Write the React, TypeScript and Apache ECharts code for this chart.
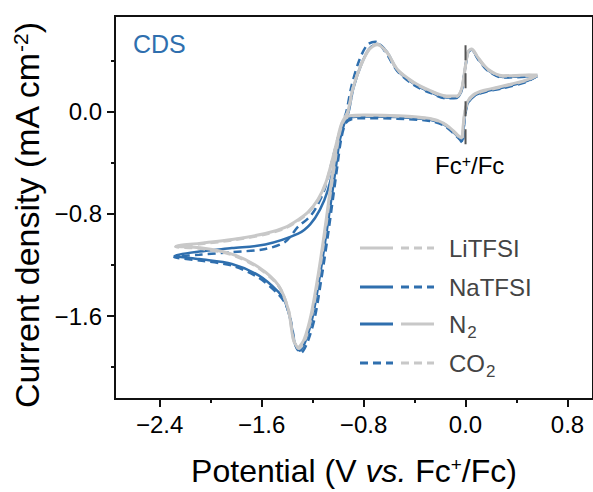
import React, { useEffect, useRef } from "react";
import * as echarts from "echarts";

const FONT = "Arial, 'Liberation Sans', Helvetica, sans-serif";
const GRAY = "#c8c8c8";
const BLUE = "#2f6fae";
const DASH = [8, 5];

// Axis ticks (V and mA cm^-2)
const xMajorTicks = [-2.4, -1.6, -0.8, 0.0, 0.8];
const xMinorTicks = [-2.0, -1.2, -0.4, 0.4];
const yMajorTicks = [-1.6, -0.8, 0.0];
const yMinorTicks = [-2.0, -1.2, -0.4, 0.4];

// Fc+/Fc reference marker at 0 V
const fcMarker = [
  [0, 0.52],
  [0, -0.26],
];

// Cyclic voltammograms [E (V vs Fc+/Fc), j (mA cm^-2)], starting at the positive vertex
const liTFSI_N2 = [
  [0.565, 0.287], [0.474, 0.248], [0.295, 0.202], [0.14, 0.166], [0.062, 0.133], [0.016, 0.079],
  [-0.008, -0.013], [-0.019, -0.113], [-0.031, -0.205], [-0.054, -0.19], [-0.093, -0.152],
  [-0.171, -0.09], [-0.28, -0.052], [-0.536, -0.031], [-0.792, -0.026], [-0.909, -0.032],
  [-0.955, -0.059], [-0.994, -0.167], [-1.025, -0.359], [-1.064, -0.628], [-1.111, -0.975],
  [-1.157, -1.282], [-1.212, -1.59], [-1.266, -1.782], [-1.313, -1.844], [-1.351, -1.782],
  [-1.39, -1.551], [-1.468, -1.359], [-1.623, -1.218], [-1.833, -1.115], [-2.089, -1.065],
  [-2.27, -1.052],
  [-2.089, -1.031], [-1.833, -1.0], [-1.571, -0.954], [-1.416, -0.905], [-1.313, -0.845],
  [-1.235, -0.785], [-1.157, -0.685], [-1.095, -0.552], [-1.041, -0.359], [-1.002, -0.205],
  [-0.971, -0.09], [-0.924, 0.0], [-0.885, 0.179], [-0.823, 0.358], [-0.756, 0.487],
  [-0.691, 0.525], [-0.614, 0.462], [-0.536, 0.333], [-0.406, 0.231], [-0.277, 0.166],
  [-0.148, 0.123], [-0.07, 0.123], [-0.031, 0.179], [-0.005, 0.333], [0.021, 0.474],
  [0.047, 0.492], [0.099, 0.423], [0.176, 0.333], [0.293, 0.282], [0.499, 0.287], [0.565, 0.287],
];

const liTFSI_CO2 = [
  [0.56, 0.284], [0.474, 0.244], [0.295, 0.198], [0.14, 0.162], [0.062, 0.13], [0.016, 0.074],
  [-0.007, -0.02], [-0.018, -0.12], [-0.029, -0.212], [-0.053, -0.195], [-0.092, -0.156],
  [-0.17, -0.094], [-0.28, -0.056], [-0.536, -0.035], [-0.792, -0.03], [-0.905, -0.036],
  [-0.952, -0.064], [-0.99, -0.175], [-1.02, -0.365], [-1.06, -0.635], [-1.107, -0.98],
  [-1.153, -1.29], [-1.208, -1.6], [-1.262, -1.792], [-1.309, -1.855], [-1.348, -1.79],
  [-1.388, -1.56], [-1.466, -1.366], [-1.623, -1.224], [-1.833, -1.12], [-2.089, -1.07],
  [-2.275, -1.058],
  [-2.089, -1.036], [-1.833, -1.006], [-1.571, -0.96], [-1.416, -0.912], [-1.313, -0.852],
  [-1.235, -0.79], [-1.155, -0.69], [-1.093, -0.555], [-1.039, -0.36], [-1.0, -0.205],
  [-0.969, -0.09], [-0.922, 0.0], [-0.884, 0.182], [-0.823, 0.362], [-0.757, 0.492],
  [-0.694, 0.53], [-0.616, 0.465], [-0.536, 0.33], [-0.406, 0.226], [-0.277, 0.162],
  [-0.148, 0.12], [-0.07, 0.12], [-0.031, 0.176], [-0.005, 0.33], [0.021, 0.472],
  [0.047, 0.49], [0.099, 0.42], [0.176, 0.33], [0.293, 0.279], [0.499, 0.285], [0.56, 0.284],
];

const naTFSI_N2 = [
  [0.565, 0.28], [0.474, 0.238], [0.295, 0.19], [0.14, 0.155], [0.062, 0.122], [0.016, 0.065],
  [-0.006, -0.03], [-0.016, -0.13], [-0.026, -0.228], [-0.05, -0.205], [-0.09, -0.165],
  [-0.17, -0.1], [-0.28, -0.062], [-0.536, -0.042], [-0.792, -0.038], [-0.9, -0.045],
  [-0.945, -0.075], [-0.982, -0.19], [-1.012, -0.4], [-1.05, -0.667], [-1.095, -0.975],
  [-1.142, -1.282], [-1.196, -1.59], [-1.25, -1.782], [-1.3, -1.872], [-1.338, -1.818],
  [-1.375, -1.625], [-1.416, -1.488], [-1.468, -1.411], [-1.623, -1.282], [-1.833, -1.192],
  [-2.089, -1.154], [-2.283, -1.128],
  [-2.089, -1.095], [-1.833, -1.068], [-1.571, -1.04], [-1.313, -0.955], [-1.219, -0.882],
  [-1.142, -0.767], [-1.08, -0.613], [-1.025, -0.397], [-0.986, -0.22], [-0.955, -0.105],
  [-0.917, 0.0], [-0.88, 0.185], [-0.818, 0.37], [-0.752, 0.497], [-0.688, 0.53],
  [-0.612, 0.462], [-0.536, 0.325], [-0.406, 0.22], [-0.277, 0.155], [-0.148, 0.112],
  [-0.07, 0.112], [-0.031, 0.17], [-0.005, 0.33], [0.021, 0.47], [0.045, 0.488],
  [0.099, 0.415], [0.176, 0.325], [0.293, 0.272], [0.499, 0.278], [0.565, 0.28],
];

const naTFSI_CO2 = [
  [0.56, 0.278], [0.474, 0.232], [0.295, 0.185], [0.14, 0.15], [0.062, 0.118], [0.016, 0.06],
  [-0.004, -0.04], [-0.014, -0.14], [-0.023, -0.244], [-0.048, -0.215], [-0.09, -0.172],
  [-0.17, -0.108], [-0.28, -0.072], [-0.536, -0.055], [-0.792, -0.05], [-0.89, -0.058],
  [-0.94, -0.09], [-0.975, -0.21], [-1.005, -0.42], [-1.04, -0.68], [-1.082, -0.985],
  [-1.128, -1.29], [-1.18, -1.6], [-1.236, -1.795], [-1.292, -1.89], [-1.332, -1.835],
  [-1.37, -1.64], [-1.41, -1.51], [-1.468, -1.43], [-1.623, -1.3], [-1.833, -1.205],
  [-2.089, -1.165], [-2.285, -1.14],
  [-2.089, -1.12], [-1.833, -1.1], [-1.571, -1.075], [-1.416, -1.02], [-1.313, -0.9],
  [-1.235, -0.836], [-1.181, -0.767], [-1.11, -0.62], [-1.05, -0.4], [-1.005, -0.22],
  [-0.97, -0.1], [-0.935, 0.0], [-0.895, 0.2], [-0.835, 0.4], [-0.77, 0.525],
  [-0.707, 0.548], [-0.63, 0.47], [-0.536, 0.32], [-0.406, 0.21], [-0.277, 0.148],
  [-0.148, 0.105], [-0.07, 0.108], [-0.031, 0.165], [-0.005, 0.325], [0.021, 0.465],
  [0.045, 0.485], [0.099, 0.41], [0.176, 0.32], [0.293, 0.268], [0.499, 0.275], [0.56, 0.278],
];

const fmt = (v: number) => v.toFixed(1).replace("-", "\u2212");

const X_MIN = -2.75;
const X_MAX = 1.0;
const Y_MIN = -2.25;
const Y_MAX = 0.75;

function cvSeries(name: string, data: number[][], color: string, dashed: boolean, width: number) {
  return {
    name,
    type: "line",
    data,
    showSymbol: false,
    smooth: 0.3,
    xAxisIndex: 0,
    yAxisIndex: 0,
    lineStyle: { color, width, type: dashed ? DASH : "solid", cap: "butt" },
    emphasis: { disabled: true },
  };
}

export default function App() {
  const ref = useRef<HTMLDivElement>(null);

  useEffect(() => {
    if (!ref.current) return;
    const chart = echarts.init(ref.current, null, { renderer: "svg" });

    const legendText = "#444";
    const legendFont = 24;

    const legendRows = [
      { y: 248, left: { color: GRAY, dash: false }, right: { color: GRAY, dash: true }, text: "LiTFSI" },
      { y: 287, left: { color: BLUE, dash: false }, right: { color: BLUE, dash: true }, text: "NaTFSI" },
      { y: 324, left: { color: BLUE, dash: false }, right: { color: GRAY, dash: false }, text: "N{sub|2}" },
      { y: 363, left: { color: BLUE, dash: true }, right: { color: GRAY, dash: true }, text: "CO{sub|2}" },
    ];

    const legendGraphics: any[] = [];
    legendRows.forEach((r) => {
      legendGraphics.push({
        type: "line",
        shape: { x1: 360, y1: r.y, x2: 393, y2: r.y },
        style: { stroke: r.left.color, lineWidth: 3, lineDash: r.left.dash ? DASH : null },
      });
      legendGraphics.push({
        type: "line",
        shape: { x1: 401, y1: r.y, x2: 434, y2: r.y },
        style: { stroke: r.right.color, lineWidth: 3, lineDash: r.right.dash ? DASH : null },
      });
      legendGraphics.push({
        type: "text",
        x: 449,
        y: r.y,
        style: {
          text: r.text,
          fill: legendText,
          font: `${legendFont}px ${FONT}`,
          verticalAlign: "middle",
          rich: {
            sub: {
              fontSize: 17,
              lineHeight: 17,
              padding: [16, 0, 0, 1],
              fontFamily: FONT,
              fill: legendText,
            },
          },
        },
      });
    });

    chart.setOption({
      animation: false,
      backgroundColor: "#fff",
      grid: {
        left: 115,
        top: 16,
        width: (X_MAX - X_MIN) * 128.75,
        height: 390,
        show: true,
        borderColor: "#111",
        borderWidth: 2,
        backgroundColor: "transparent",
      },
      xAxis: [
        {
          type: "value",
          min: X_MIN,
          max: X_MAX,
          position: "bottom",
          axisLine: { show: true, onZero: false, lineStyle: { color: "#111", width: 2 } },
          axisTick: { show: true, customValues: xMajorTicks, length: 8, lineStyle: { color: "#111", width: 2 } },
          axisLabel: {
            show: true,
            customValues: xMajorTicks,
            formatter: fmt,
            margin: 13,
            color: "#000",
            fontSize: 24,
            fontFamily: FONT,
          },
          splitLine: { show: false },
          name: "Potential (V {i|vs.} Fc{sup|+}/Fc)",
          nameLocation: "middle",
          nameGap: 56,
          nameTextStyle: {
            fontSize: 32,
            fontFamily: FONT,
            color: "#000",
            rich: {
              i: { fontSize: 32, fontStyle: "italic", fontFamily: FONT, color: "#000" },
              sup: { fontSize: 19, verticalAlign: "top", fontFamily: FONT, color: "#000" },
            },
          },
        },
        {
          type: "value",
          min: X_MIN,
          max: X_MAX,
          position: "bottom",
          axisLine: { show: false, onZero: false },
          axisTick: { show: true, customValues: xMinorTicks, length: 4, lineStyle: { color: "#111", width: 2 } },
          axisLabel: { show: false },
          splitLine: { show: false },
        },
      ],
      yAxis: [
        {
          type: "value",
          min: Y_MIN,
          max: Y_MAX,
          position: "left",
          axisLine: { show: true, onZero: false, lineStyle: { color: "#111", width: 2 } },
          axisTick: { show: true, customValues: yMajorTicks, length: 8, lineStyle: { color: "#111", width: 2 } },
          axisLabel: {
            show: true,
            customValues: yMajorTicks,
            formatter: fmt,
            margin: 13,
            color: "#000",
            fontSize: 24,
            fontFamily: FONT,
          },
          splitLine: { show: false },
          name: "Current density (mA cm{sup|-2})",
          nameLocation: "middle",
          nameRotate: 90,
          nameGap: 70,
          nameTextStyle: {
            fontSize: 34,
            fontFamily: FONT,
            color: "#000",
            padding: [0, 16, 0, 0],
            rich: { sup: { fontSize: 21, verticalAlign: "top", fontFamily: FONT, color: "#000" } },
          },
        },
        {
          type: "value",
          min: Y_MIN,
          max: Y_MAX,
          position: "left",
          axisLine: { show: false, onZero: false },
          axisTick: { show: true, customValues: yMinorTicks, length: 4, lineStyle: { color: "#111", width: 2 } },
          axisLabel: { show: false },
          splitLine: { show: false },
        },
      ],
      graphic: [
        {
          type: "text",
          x: 133,
          y: 44,
          style: { text: "CDS", fill: BLUE, font: `25px ${FONT}`, verticalAlign: "middle" },
        },
        {
          type: "text",
          x: 435,
          y: 165,
          style: {
            text: "Fc{sup|+}/Fc",
            fill: "#000",
            font: `24px ${FONT}`,
            verticalAlign: "middle",
            rich: { sup: { fontSize: 16, verticalAlign: "top", fontFamily: FONT, fill: "#000" } },
          },
        },
        ...legendGraphics,
      ],
      series: [
        cvSeries("NaTFSI CO2", naTFSI_CO2, BLUE, true, 2.5),
        cvSeries("NaTFSI N2", naTFSI_N2, BLUE, false, 2.5),
        cvSeries("LiTFSI CO2", liTFSI_CO2, GRAY, true, 3),
        cvSeries("LiTFSI N2", liTFSI_N2, GRAY, false, 3),
        {
          name: "Fc+/Fc",
          type: "line",
          data: fcMarker,
          showSymbol: false,
          lineStyle: { color: "#555", width: 2, type: [15, 13] },
          z: 5,
          emphasis: { disabled: true },
        },
      ],
    });

    return () => chart.dispose();
  }, []);

  return (
    <div
      ref={ref}
      style={{ position: "absolute", left: 0, top: 0, width: 593, height: 492, background: "#fff" }}
    />
  );
}
